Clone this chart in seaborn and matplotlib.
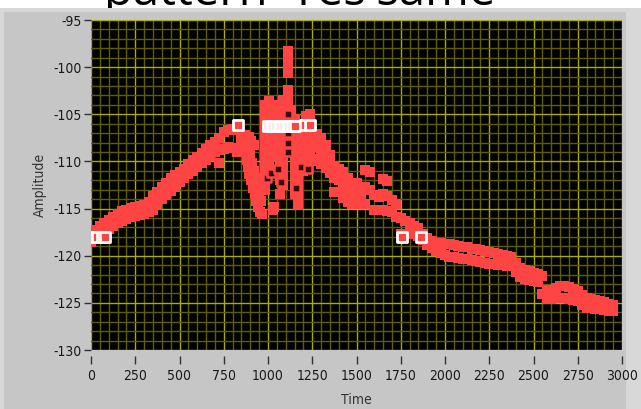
import pandas as pd
import matplotlib.pyplot as plt
import seaborn as sns
from matplotlib.patches import Rectangle
from matplotlib.ticker import MultipleLocator

RED = '#ff4444'
PANEL = '#c6c6c6'

# --- main trace: upper / lower edge of the red band ---
band_t = [0, 25, 50, 75, 100, 125, 150, 175, 200, 225, 250, 275, 300, 325, 350,
          375, 400, 425, 450, 475, 500, 525, 550, 575, 600, 625, 650, 675, 700,
          725, 750, 775, 800, 825,
          1250, 1275, 1300, 1325, 1350, 1375, 1400, 1425, 1450, 1475, 1500, 1525,
          1550, 1575, 1600, 1625, 1650, 1675, 1700, 1725, 1750, 1775, 1800, 1825,
          1850, 1875, 1900, 1925, 1950, 1975, 2000, 2025, 2050, 2075, 2100, 2125,
          2150, 2175, 2200, 2225, 2250, 2275, 2300, 2325, 2350, 2375, 2400, 2425,
          2450, 2475, 2500, 2525, 2550, 2575, 2600, 2625, 2650, 2675, 2700, 2725,
          2750, 2775, 2800, 2825, 2850, 2875, 2900, 2925, 2950]
band_hi = [-117.6, -117.3, -116.9, -116.5, -116.2, -115.9, -115.6, -115.3, -115.1,
           -114.9, -114.8, -114.7, -114.6, -114.3, -113.7, -113.2, -112.7, -112.3,
           -111.8, -111.4, -111.1, -110.8, -110.3, -109.9, -109.5, -109.1, -108.7,
           -108.3, -107.9, -107.5, -106.9, -106.7, -106.6, -106.7,
           -106.8, -107.1, -107.5, -108.3, -109.3, -110.5, -110.8, -111.1, -111.8,
           -112.3, -112.3, -112.8, -110.9, -111.1, -113.6, -113.8, -111.9, -112.1,
           -114.1, -114.5, -116.0, -116.3, -116.5, -116.8, -117.1, -117.7, -118.1,
           -118.4, -118.6, -118.7, -118.8, -118.8, -118.9, -119.0, -119.1, -119.1,
           -119.3, -119.3, -119.4, -119.5, -119.6, -119.7, -119.8, -119.9, -120.0,
           -120.1, -120.8, -121.3, -121.5, -121.6, -121.8, -121.9, -122.1, -123.6,
           -123.6, -123.4, -123.2, -123.2, -123.3, -123.5, -123.7, -124.2, -124.5,
           -124.6, -124.7, -124.8, -124.9, -125.1, -125.2]
band_lo = [-118.5, -118.2, -117.9, -117.5, -117.2, -116.8, -116.5, -116.3, -116.1,
           -115.9, -115.8, -115.7, -115.6, -115.4, -115.1, -114.6, -114.0, -113.6,
           -113.1, -112.7, -112.2, -111.8, -111.3, -111.0, -110.6, -110.2, -109.8,
           -109.4, -109.0, -110.2, -108.7, -108.5, -108.6, -109.0,
           -109.7, -110.0, -110.3, -110.7, -111.2, -113.2, -113.2, -113.9, -114.3,
           -114.5, -114.3, -114.5, -114.5, -113.0, -115.1, -115.2, -115.2, -115.3,
           -115.4, -115.9, -117.7, -117.7, -117.5, -117.7, -117.9, -118.3, -118.9,
           -119.2, -119.5, -119.7, -119.9, -120.1, -120.1, -120.2, -120.3, -120.4,
           -120.5, -120.6, -120.7, -120.8, -120.9, -120.9, -121.0, -121.0, -121.1,
           -121.1, -121.7, -122.3, -122.5, -122.6, -122.7, -122.8, -124.1, -124.6,
           -124.6, -124.5, -124.5, -124.5, -124.6, -124.7, -124.8, -125.2, -125.5,
           -125.5, -125.6, -125.7, -125.8, -125.9, -125.9]

# extra points filling the wider parts of the band
fill_t = [725, 1250, 1275, 1300, 1325, 1350, 1375, 1400, 1425, 1450, 1475, 1500,
          1525, 1550, 1650, 1675]
fill_a = [-108.8, -108.2, -108.5, -108.9, -109.5, -110.2, -111.8, -112.0, -112.5,
          -113.0, -113.4, -113.3, -113.6, -112.7, -113.5, -113.7]

# --- scattered points in the noisy middle section ---
chaos_t = [850, 860, 870, 880, 885, 895, 905, 915, 925, 935, 945, 955, 965,
           875, 890, 900, 910, 920, 930, 940, 950, 960, 870, 890, 905, 920,
           1030, 1035,
           985, 985, 985, 985, 985, 985, 985, 985, 985, 985,
           1005, 1005, 1005, 1005, 1005, 1005, 1005, 1005,
           1025, 1025, 1025, 1025, 1025, 1025,
           1045, 1045, 1045, 1045, 1045, 1045,
           1065, 1065, 1065, 1065, 1065, 1065, 1065, 1065, 1065, 1065,
           1085, 1085, 1085, 1085, 1085, 1085, 1085, 1085, 1085, 1085,
           1112, 1112, 1112, 1112, 1112, 1112, 1112,
           1130, 1130, 1130, 1130,
           1150, 1150, 1150, 1150, 1150, 1150, 1150, 1150, 1150,
           1170, 1170, 1170, 1170, 1170, 1170, 1170, 1170, 1170, 1170,
           1195, 1195, 1195, 1195, 1195, 1195,
           1215, 1215, 1215, 1215, 1215, 1215,
           1235, 1235, 1235, 1235, 1235, 1235]
chaos_a = [-107.5, -108.3, -109.0, -109.8, -110.6, -111.3, -112.0, -112.8, -113.5,
           -114.2, -114.8, -115.4, -115.6,
           -108.0, -108.5, -109.3, -110.2, -111.0, -111.8, -112.6, -113.4, -114.2,
           -107.2, -107.4, -107.8, -108.3,
           -115.2, -114.8,
           -104.0, -105.0, -106.0, -107.0, -108.0, -109.0, -110.0, -111.0, -112.0, -113.0,
           -103.6, -104.5, -105.5, -106.5, -107.5, -108.5, -109.5, -110.5,
           -104.0, -105.0, -106.0, -107.0, -108.0, -109.0,
           -104.5, -105.5, -106.5, -107.5, -108.5, -109.5,
           -104.0, -105.0, -106.0, -107.0, -108.0, -109.0, -110.0, -111.0, -112.0, -113.5,
           -103.5, -104.5, -105.5, -106.5, -107.5, -108.5, -109.5, -110.5, -111.5, -112.5,
           -98.3, -99.1, -99.9, -100.6, -102.4, -103.1, -103.8,
           -104.5, -105.5, -106.5, -107.5,
           -105.5, -106.5, -107.5, -108.5, -109.5, -110.5, -111.5, -112.5, -113.5,
           -106.0, -107.0, -108.0, -109.0, -110.0, -111.0, -112.0, -113.0, -114.0, -114.6,
           -106.0, -107.0, -108.0, -109.0, -110.0, -111.0,
           -105.2, -106.0, -107.0, -108.0, -109.0, -110.0,
           -105.0, -106.0, -107.0, -108.0, -109.0, -110.0]

# hollow squares: loose points inside the noisy section
hollow_t = [1112, 1112, 1112, 1112, 1112, 995, 1015, 1055, 1075, 1160, 1185, 1225]
hollow_a = [-105.0, -106.0, -107.0, -108.0, -109.0,
            -111.8, -111.2, -110.8, -112.2, -112.8, -110.6, -110.8]

# --- white highlighted points ---
white_t = [10, 35, 60, 80, 830, 1000, 1015, 1030, 1045, 1060, 1075, 1090, 1105,
           1120, 1135, 1150, 1210, 1235, 1755, 1862]
white_a = [-118.0, -118.0, -118.0, -118.0, -106.1, -106.2, -106.2, -106.2, -106.2,
           -106.2, -106.2, -106.2, -106.2, -106.2, -106.2, -106.2, -106.1, -106.1,
           -118.0, -118.0]

x_ticks = [0, 250, 500, 750, 1000, 1250, 1500, 1750, 2000, 2250, 2500, 2750, 3000]
y_ticks = [-95, -100, -105, -110, -115, -120, -125, -130]

band = pd.DataFrame({'Time': band_t + band_t + fill_t + chaos_t,
                     'Amplitude': band_hi + band_lo + fill_a + chaos_a})
hollow = pd.DataFrame({'Time': hollow_t, 'Amplitude': hollow_a})
white = pd.DataFrame({'Time': white_t, 'Amplitude': white_a})

sns.set_style('dark')
plt.rcParams['font.family'] = ['DejaVu Sans']
plt.rcParams['font.stretch'] = 'condensed'
plt.rcParams['axes.unicode_minus'] = False

fig = plt.figure(figsize=(6.41, 4.09), dpi=100, facecolor='white')
# grey LabVIEW-style panel (title text sits behind it and is cut off)
fig.patches.append(Rectangle((0, 0), 1, 1 - 8 / 409, transform=fig.transFigure,
                             facecolor='#d8d8d8', edgecolor='none', zorder=-1))
fig.patches.append(Rectangle((4 / 641, 0), 622 / 641, 1 - 12 / 409,
                             transform=fig.transFigure, facecolor=PANEL,
                             edgecolor='none', zorder=-1))
fig.text(300 / 641, 1 - 5 / 409, "pattern 'Yes'same", fontsize=34, ha='center',
         va='baseline', color='black', zorder=-2, family=['Open Sans', 'DejaVu Sans'],
         fontstretch='normal')

ax = fig.add_axes([91 / 641, 59 / 409, 531 / 641, 330 / 409])
ax.set_facecolor('black')

ax.xaxis.set_minor_locator(MultipleLocator(50))
ax.yaxis.set_minor_locator(MultipleLocator(1))
ax.grid(which='minor', color='#5e5e00', linewidth=1)
ax.grid(which='major', color='#acac00', linewidth=1)
ax.set_axisbelow(True)

sns.scatterplot(data=band, x='Time', y='Amplitude', marker='s', s=52,
                color=RED, linewidth=0, ax=ax, zorder=3)
sns.scatterplot(data=hollow, x='Time', y='Amplitude', marker='s', s=30,
                facecolors='#3a0808', edgecolor=RED, linewidth=1.8, ax=ax, zorder=3)
sns.scatterplot(data=white, x='Time', y='Amplitude', marker='s', s=42,
                color=RED, edgecolor='white', linewidth=2, ax=ax, zorder=4)

ax.set_xlim(0, 3000)
ax.set_ylim(-130, -95)
ax.set_xticks(x_ticks)
ax.set_yticks(y_ticks)
for s in ax.spines.values():
    s.set_visible(False)
# LabVIEW draws the time scale a little below the plot area
ax.spines['bottom'].set_position(('outward', 4))
ax.tick_params(axis='x', which='major', direction='out', length=6, width=1,
               color='#333333', labelsize=10, labelcolor='#1a1a1a', bottom=True, pad=4)
ax.tick_params(axis='y', which='major', direction='out', length=5, width=1,
               color='#333333', labelsize=10, labelcolor='#1a1a1a', left=True, pad=2)
ax.tick_params(which='minor', length=0)

ax.set_xlabel('Time', fontsize=10, color='#333333', labelpad=7)
ax.set_ylabel('Amplitude', fontsize=10, color='#333333', labelpad=4)

fig.savefig('out.png', dpi=100, facecolor=fig.get_facecolor())
